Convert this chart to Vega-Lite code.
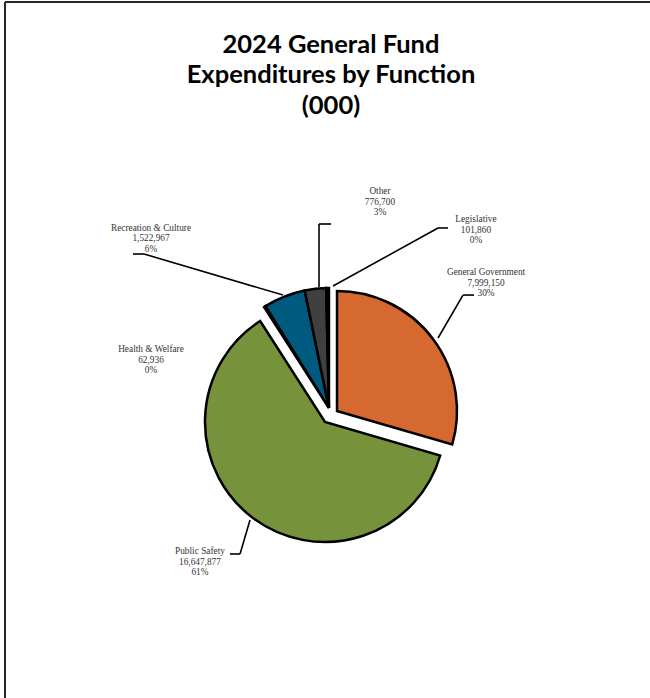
{
  "$schema": "https://vega.github.io/schema/vega-lite/v6.json",
  "width": 645,
  "height": 696,
  "autosize": "none",
  "padding": {"left": 5, "top": 2, "right": 0, "bottom": 0},
  "background": "white",
  "view": {"stroke": "white", "strokeWidth": 1},
  "config": {
    "view": {"stroke": "white", "strokeWidth": 1},
    "text": {"font": "Liberation Serif", "fontSize": 9.3, "color": "#333333", "lineBreak": "\n", "lineHeight": 10.5, "align": "center", "baseline": "middle"}
  },
  "title": {
    "text": ["2024 General Fund", "Expenditures by Function", "(000)"],
    "font": "Lato",
    "fontSize": 25.5,
    "fontWeight": "bold",
    "color": "#000000",
    "lineHeight": 30.5,
    "anchor": "middle",
    "offset": -118,
    "dx": 3.5
  },
  "data": {
    "values": [
      {"name": "General Government", "value": 7999150},
      {"name": "Public Safety", "value": 16647877},
      {"name": "Health & Welfare", "value": 62936},
      {"name": "Recreation & Culture", "value": 1522967},
      {"name": "Other", "value": 776700},
      {"name": "Legislative", "value": 101860}
    ]
  },
  "transform": [
    {"stack": "value", "groupby": [], "as": ["v0", "v1"], "offset": "normalize"},
    {"calculate": "datum.name + '\\n' + format(datum.value, ',') + '\\n' + format(datum.v1 - datum.v0, '.0%')", "as": "label"}
  ],
  "layer": [
    {
      "data": {"values": [{}]},
      "mark": {"type": "rule", "color": "#262626", "strokeWidth": 2},
      "encoding": {
        "x": {"datum": -2.6667, "type": "quantitative", "scale": {"domain": [-2.6667, 2.7083], "nice": false, "zero": false}, "axis": null},
        "x2": {"datum": 2.7083},
        "y": {"datum": 3.5, "type": "quantitative", "scale": {"domain": [-2.3, 3.5], "nice": false, "zero": false}, "axis": null},
        "y2": {"datum": 3.5}
      }
    },
    {
      "data": {"values": [{}]},
      "mark": {"type": "rule", "color": "#262626", "strokeWidth": 2},
      "encoding": {
        "x": {"datum": -2.6667, "type": "quantitative"},
        "x2": {"datum": -2.6667},
        "y": {"datum": 3.5, "type": "quantitative"},
        "y2": {"datum": -2.3}
      }
    },
    {
      "transform": [{"filter": "datum.name == 'Public Safety'"}],
      "mark": {"type": "arc", "radius": 120, "stroke": "black", "strokeWidth": 2.5, "strokeJoin": "miter"},
      "encoding": {
        "x": {"datum": 0, "type": "quantitative"},
        "y": {"datum": 0, "type": "quantitative"},
        "theta": {"field": "v0", "type": "quantitative", "stack": null, "scale": {"domain": [0, 1]}},
        "theta2": {"field": "v1"},
        "color": {"field": "name", "type": "nominal", "legend": null, "scale": {"domain": ["General Government", "Public Safety", "Health & Welfare", "Recreation & Culture", "Other", "Legislative"], "range": ["#D5692F", "#76933C", "#1A1A1A", "#005A80", "#404040", "#1A1A1A"]}}
      }
    },
    {
      "transform": [{"filter": "datum.name == 'General Government'"}],
      "mark": {"type": "arc", "radius": 120, "stroke": "black", "strokeWidth": 2.5, "strokeJoin": "miter"},
      "encoding": {
        "x": {"datum": 0.1, "type": "quantitative"},
        "y": {"datum": 0.092, "type": "quantitative"},
        "theta": {"field": "v0", "type": "quantitative", "stack": null, "scale": {"domain": [0, 1]}},
        "theta2": {"field": "v1"},
        "color": {"field": "name", "type": "nominal", "legend": null}
      }
    },
    {
      "transform": [{"filter": "datum.name != 'General Government' && datum.name != 'Public Safety'"}],
      "mark": {"type": "arc", "radius": 120, "stroke": "black", "strokeWidth": 2.5, "strokeJoin": "miter"},
      "encoding": {
        "x": {"datum": 0.033, "type": "quantitative"},
        "y": {"datum": 0.117, "type": "quantitative"},
        "theta": {"field": "v0", "type": "quantitative", "stack": null, "scale": {"domain": [0, 1]}},
        "theta2": {"field": "v1"},
        "color": {"field": "name", "type": "nominal", "legend": null}
      }
    },
    {
      "transform": [{"filter": "datum.name == 'Other'"}],
      "mark": {"type": "rule", "color": "black", "strokeWidth": 1.6},
      "encoding": {"x": {"datum": -0.05, "type": "quantitative"}, "y": {"datum": 1.125, "type": "quantitative"}, "x2": {"datum": -0.05}, "y2": {"datum": 1.65}}
    },
    {
      "transform": [{"filter": "datum.name == 'Other'"}],
      "mark": {"type": "rule", "color": "black", "strokeWidth": 1.6},
      "encoding": {"x": {"datum": -0.05, "type": "quantitative"}, "y": {"datum": 1.65, "type": "quantitative"}, "x2": {"datum": 0.05}, "y2": {"datum": 1.65}}
    },
    {
      "transform": [{"filter": "datum.name == 'Legislative'"}],
      "mark": {"type": "rule", "color": "black", "strokeWidth": 1.6},
      "encoding": {"x": {"datum": 0.067, "type": "quantitative"}, "y": {"datum": 1.133, "type": "quantitative"}, "x2": {"datum": 0.942}, "y2": {"datum": 1.617}}
    },
    {
      "transform": [{"filter": "datum.name == 'Legislative'"}],
      "mark": {"type": "rule", "color": "black", "strokeWidth": 1.6},
      "encoding": {"x": {"datum": 0.942, "type": "quantitative"}, "y": {"datum": 1.617, "type": "quantitative"}, "x2": {"datum": 1.025}, "y2": {"datum": 1.617}}
    },
    {
      "transform": [{"filter": "datum.name == 'General Government'"}],
      "mark": {"type": "rule", "color": "black", "strokeWidth": 1.6},
      "encoding": {"x": {"datum": 0.942, "type": "quantitative"}, "y": {"datum": 0.7, "type": "quantitative"}, "x2": {"datum": 1.15}, "y2": {"datum": 1.058}}
    },
    {
      "transform": [{"filter": "datum.name == 'General Government'"}],
      "mark": {"type": "rule", "color": "black", "strokeWidth": 1.6},
      "encoding": {"x": {"datum": 1.15, "type": "quantitative"}, "y": {"datum": 1.058, "type": "quantitative"}, "x2": {"datum": 1.242}, "y2": {"datum": 1.058}}
    },
    {
      "transform": [{"filter": "datum.name == 'Recreation & Culture'"}],
      "mark": {"type": "rule", "color": "black", "strokeWidth": 1.6},
      "encoding": {"x": {"datum": -0.35, "type": "quantitative"}, "y": {"datum": 1.058, "type": "quantitative"}, "x2": {"datum": -1.508}, "y2": {"datum": 1.4}}
    },
    {
      "transform": [{"filter": "datum.name == 'Recreation & Culture'"}],
      "mark": {"type": "rule", "color": "black", "strokeWidth": 1.6},
      "encoding": {"x": {"datum": -1.508, "type": "quantitative"}, "y": {"datum": 1.4, "type": "quantitative"}, "x2": {"datum": -1.6}, "y2": {"datum": 1.4}}
    },
    {
      "transform": [{"filter": "datum.name == 'Public Safety'"}],
      "mark": {"type": "rule", "color": "black", "strokeWidth": 1.6},
      "encoding": {"x": {"datum": -0.625, "type": "quantitative"}, "y": {"datum": -0.817, "type": "quantitative"}, "x2": {"datum": -0.708}, "y2": {"datum": -1.1}}
    },
    {
      "transform": [{"filter": "datum.name == 'Public Safety'"}],
      "mark": {"type": "rule", "color": "black", "strokeWidth": 1.6},
      "encoding": {"x": {"datum": -0.708, "type": "quantitative"}, "y": {"datum": -1.1, "type": "quantitative"}, "x2": {"datum": -0.792}, "y2": {"datum": -1.1}}
    },
    {
      "transform": [{"filter": "datum.name == 'Other'"}],
      "mark": {"type": "text"},
      "encoding": {"x": {"datum": 0.458, "type": "quantitative"}, "y": {"datum": 1.925, "type": "quantitative"}, "text": {"field": "label"}}
    },
    {
      "transform": [{"filter": "datum.name == 'Legislative'"}],
      "mark": {"type": "text"},
      "encoding": {"x": {"datum": 1.258, "type": "quantitative"}, "y": {"datum": 1.688, "type": "quantitative"}, "text": {"field": "label"}}
    },
    {
      "transform": [{"filter": "datum.name == 'General Government'"}],
      "mark": {"type": "text"},
      "encoding": {"x": {"datum": 1.342, "type": "quantitative"}, "y": {"datum": 1.25, "type": "quantitative"}, "text": {"field": "label"}}
    },
    {
      "transform": [{"filter": "datum.name == 'Recreation & Culture'"}],
      "mark": {"type": "text"},
      "encoding": {"x": {"datum": -1.45, "type": "quantitative"}, "y": {"datum": 1.617, "type": "quantitative"}, "text": {"field": "label"}}
    },
    {
      "transform": [{"filter": "datum.name == 'Health & Welfare'"}],
      "mark": {"type": "text"},
      "encoding": {"x": {"datum": -1.45, "type": "quantitative"}, "y": {"datum": 0.608, "type": "quantitative"}, "text": {"field": "label"}}
    },
    {
      "transform": [{"filter": "datum.name == 'Public Safety'"}],
      "mark": {"type": "text"},
      "encoding": {"x": {"datum": -1.042, "type": "quantitative"}, "y": {"datum": -1.079, "type": "quantitative"}, "text": {"field": "label"}}
    }
  ]
}
